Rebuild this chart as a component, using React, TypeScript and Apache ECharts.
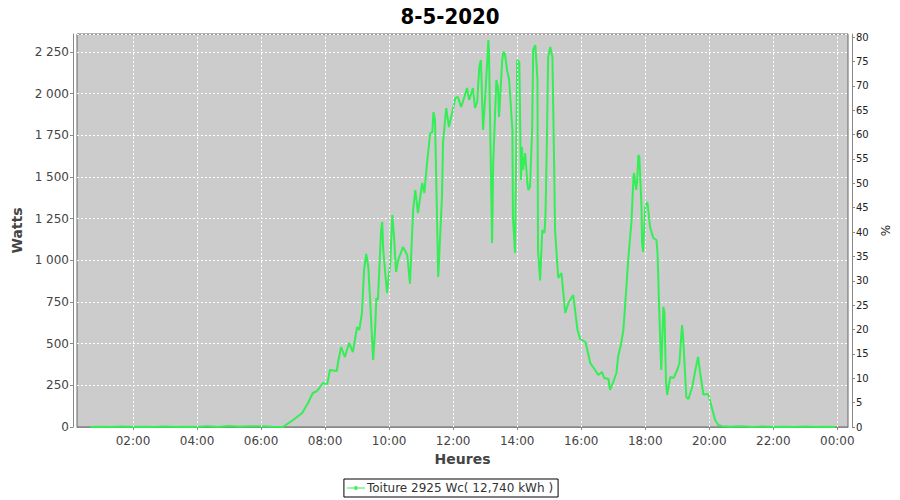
import React, { useEffect, useRef } from 'react';
import * as echarts from 'echarts';

const chartTitle = '8-5-2020';
const seriesName = 'Toiture 2925 Wc( 12,740 kWh )';
const peakWc = 2925;
const wattsMax = 2358;
const xTickHours = [2, 4, 6, 8, 10, 12, 14, 16, 18, 20, 22, 24];

const times = [
  '00:40', '01:00', '01:20', '01:40', '02:00', '02:20', '02:40', '03:00', '03:20', '03:40',
  '04:00', '04:20', '04:40', '05:00', '05:20', '05:40', '06:00', '06:20', '06:41',
  '07:00', '07:17', '07:28', '07:37', '07:45', '07:56', '08:04', '08:09', '08:22', '08:24',
  '08:30', '08:37', '08:45', '08:52', '09:00', '09:04', '09:09', '09:13', '09:17', '09:21',
  '09:24', '09:30', '09:34', '09:36', '09:39', '09:45', '09:47', '09:49', '09:56', '10:02',
  '10:06', '10:09', '10:13', '10:17', '10:26', '10:34', '10:39', '10:45', '10:49', '10:54',
  '11:02', '11:06', '11:11', '11:17', '11:21', '11:23', '11:26', '11:32', '11:39', '11:41',
  '11:47', '11:52', '11:58', '12:04', '12:09', '12:15', '12:21', '12:26', '12:30', '12:37',
  '12:41', '12:45', '12:49', '12:52', '12:56', '13:00', '13:04', '13:06', '13:07', '13:13',
  '13:15', '13:21', '13:24', '13:26', '13:32', '13:34', '13:37', '13:41', '13:45', '13:51',
  '13:52', '13:56', '14:00', '14:04', '14:07', '14:09', '14:11', '14:15', '14:19', '14:21',
  '14:24', '14:28', '14:30', '14:34', '14:38', '14:39', '14:43', '14:47', '14:51', '14:53',
  '14:56', '14:58', '15:02', '15:06', '15:08', '15:11', '15:13', '15:17', '15:23', '15:30',
  '15:36', '15:45', '15:53', '15:58', '16:08', '16:17', '16:26', '16:32', '16:39', '16:43',
  '16:51', '16:54', '17:00', '17:06', '17:09', '17:15', '17:19', '17:23', '17:28', '17:34',
  '17:38', '17:39', '17:43', '17:45', '17:47', '17:49', '17:53', '17:54', '17:56', '18:00',
  '18:04', '18:09', '18:15', '18:21', '18:23', '18:26', '18:30', '18:34', '18:36', '18:39',
  '18:41', '18:47', '18:53', '19:00', '19:04', '19:09', '19:11', '19:17', '19:21', '19:28',
  '19:34', '19:39', '19:43', '19:49', '19:58', '20:06', '20:11', '20:17', '20:24', '20:40',
  '21:00', '21:20', '21:40', '22:00', '22:20', '22:40', '23:00', '23:20', '23:40', '23:56',
];

const watts = [
  0, 2, 0, 3, 0, 2, 0, 3, 0, 2,
  0, 4, 0, 6, 2, 5, 4, 2, 0,
  42, 84, 144, 204, 216, 264, 258, 342, 336, 384,
  480, 420, 504, 450, 600, 582, 684, 942, 1038, 960,
  780, 402, 600, 774, 762, 1182, 1230, 1062, 804, 984,
  1272, 1150, 930, 1002, 1080, 1032, 860, 1302, 1422, 1284,
  1464, 1404, 1584, 1764, 1770, 1890, 1842, 900, 1380, 1704,
  1914, 1800, 1884, 1974, 1980, 1920, 1980, 2034, 1962, 2034,
  1914, 1950, 2160, 2202, 1782, 1980, 2202, 2322, 2262, 1104,
  1584, 2082, 2040, 1860, 2202, 2250, 2240, 2142, 2082, 1782,
  1260, 1044, 2202, 2190, 1482, 1680, 1542, 1644, 1464, 1422,
  1440, 1782, 2262, 2292, 2082, 1062, 880, 1182, 1164, 1260,
  1782, 2220, 2280, 2220, 1824, 1182, 1080, 894, 924, 684,
  744, 792, 582, 528, 510, 384, 342, 312, 330, 294,
  288, 222, 270, 324, 420, 504, 582, 762, 1002, 1224,
  1500, 1524, 1422, 1480, 1632, 1620, 1320, 1104, 1050, 1320,
  1350, 1200, 1134, 1122, 1044, 720, 342, 720, 684, 264,
  192, 300, 294, 342, 384, 612, 540, 180, 168, 240,
  342, 420, 324, 195, 198, 102, 42, 12, 5, 2,
  4, 0, 3, 0, 2, 0, 3, 0, 2, 0,
];

const toMinutes = (t: string) => {
  const [h, m] = t.split(':').map(Number);
  return h * 60 + m;
};

const fmtThousands = (v: number) =>
  String(Math.round(v)).replace(/\B(?=(\d{3})+(?!\d))/g, ' ');

const fmtHour = (v: number) => {
  const h = Math.floor(v / 60) % 24;
  const m = Math.round(v % 60);
  return `${String(h).padStart(2, '0')}:${String(m).padStart(2, '0')}`;
};

const FONT = 'DejaVu Sans';
const LINE_COLOR = '#33ee55';

export default function App() {
  const ref = useRef<HTMLDivElement>(null);
  useEffect(() => {
    if (!ref.current) return;
    const chart = echarts.init(ref.current, null, { renderer: 'svg' });
    const tickMinutes = xTickHours.map((h) => h * 60);
    const data = times.map((t, i) => [toMinutes(t), watts[i]]);
    chart.setOption({
      animation: false,
      backgroundColor: '#ffffff',
      title: {
        text: chartTitle,
        left: 'center',
        top: 0,
        textStyle: {
          fontFamily: 'DejaVu Sans Condensed, DejaVu Sans',
          fontWeight: 'bold',
          fontSize: 22,
          color: '#000',
        },
      },
      legend: {
        bottom: 3,
        left: 'center',
        borderColor: '#000',
        borderWidth: 1,
        padding: [3, 5, 3, 3],
        itemWidth: 18,
        itemHeight: 5,
        itemGap: 2,
        textStyle: { fontFamily: FONT, fontSize: 12, color: '#333', padding: [0, 0, 0, -3] },
        data: [
          {
            name: seriesName,
            icon: 'path://M0,2 L18,2 L18,3.2 L0,3.2 Z M7.5,0.8 L10.5,0.8 L10.5,4.4 L7.5,4.4 Z',
            itemStyle: { color: LINE_COLOR },
          },
        ],
      },
      grid: {
        left: 77,
        right: 52,
        top: 34,
        bottom: 73,
        show: true,
        backgroundColor: '#cccccc',
        borderColor: '#666666',
        borderWidth: 1,
      },
      xAxis: {
        type: 'value',
        min: 15,
        max: 1460,
        name: 'Heures',
        nameLocation: 'middle',
        nameGap: 21,
        nameTextStyle: { fontFamily: FONT, fontWeight: 'bold', fontSize: 14, color: '#444' },
        offset: 4,
        axisLine: { show: true, lineStyle: { color: '#888', width: 1 } },
        axisTick: { show: true, length: 3, customValues: tickMinutes, lineStyle: { color: '#888' } },
        axisLabel: {
          customValues: tickMinutes,
          formatter: (v: number) => fmtHour(v),
          fontFamily: FONT,
          fontSize: 12,
          color: '#444',
          margin: 4,
        },
        splitLine: { show: false },
      },
      yAxis: [
        {
          type: 'value',
          min: 0,
          max: wattsMax,
          interval: 250,
          name: 'Watts',
          nameLocation: 'middle',
          nameGap: 45,
          nameTextStyle: { fontFamily: FONT, fontWeight: 'bold', fontSize: 14, color: '#444' },
          offset: 4,
          axisLine: { show: true, lineStyle: { color: '#888', width: 1 } },
          axisTick: { show: true, length: 3, lineStyle: { color: '#888' } },
          axisLabel: {
            formatter: (v: number) => fmtThousands(v),
            fontFamily: FONT,
            fontSize: 12,
            color: '#444',
            margin: 4,
            showMaxLabel: false,
          },
          splitLine: { show: true, lineStyle: { color: '#ffffff', type: [2, 2], width: 1 } },
        },
        {
          type: 'value',
          position: 'right',
          min: 0,
          max: (wattsMax / peakWc) * 100,
          interval: 5,
          name: '%',
          nameLocation: 'middle',
          nameGap: 25,
          nameTextStyle: { fontFamily: FONT, fontSize: 12, color: '#222' },
          offset: 4,
          axisLine: { show: true, lineStyle: { color: '#888', width: 1 } },
          axisTick: { show: true, length: 3, lineStyle: { color: '#888' } },
          axisLabel: {
            fontFamily: FONT,
            fontSize: 10,
            color: '#222',
            margin: 4,
            showMaxLabel: false,
          },
          splitLine: { show: false },
        },
      ],
      series: [
        {
          name: 'grid-v',
          type: 'line',
          data: [],
          silent: true,
          z: 1,
          markLine: {
            silent: true,
            symbol: 'none',
            label: { show: false },
            lineStyle: { color: '#ffffff', type: [2, 2], width: 1 },
            data: tickMinutes.map((m) => ({ xAxis: m })),
          },
        },
        {
          name: seriesName,
          type: 'line',
          data,
          showSymbol: false,
          symbol: 'none',
          lineStyle: { color: LINE_COLOR, width: 2 },
          itemStyle: { color: LINE_COLOR },
          z: 3,
        },
      ],
    });
    return () => chart.dispose();
  }, []);
  return <div ref={ref} style={{ width: 900, height: 500, position: 'absolute', left: 0, top: 0 }} />;
}
